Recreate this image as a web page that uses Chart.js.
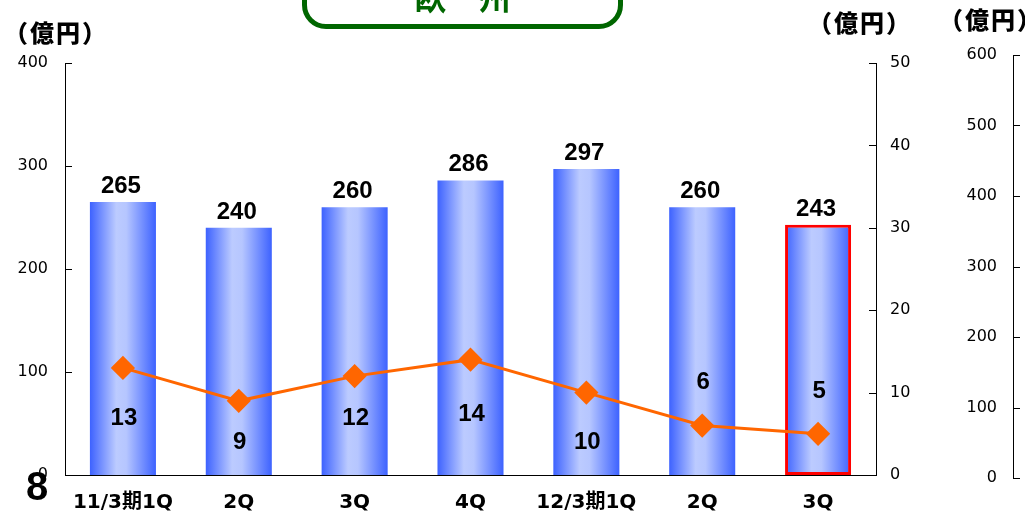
<!DOCTYPE html>
<html>
<head>
<meta charset="utf-8">
<script src="https://cdn.jsdelivr.net/npm/chart.js@4"></script>
<style>
  html, body { margin: 0; padding: 0; background: #fff; }
  body { width: 1025px; height: 516px; position: relative; overflow: hidden; }
  #main { position: absolute; left: 0; top: 0; }
  #side { position: absolute; left: 960px; top: 0; }
  .unit { position: absolute; font-family: "Noto Sans CJK JP", sans-serif; font-weight: 900;
          font-size: 24px; line-height: 1; letter-spacing: 2px; color: #000; white-space: nowrap; }
  .region { position: absolute; left: 302px; top: -40px; width: 311px; height: 59px;
            border: 5px solid #006600; border-radius: 24px; background: #fff; }
  .region-title { position: absolute; left: 302px; width: 321px; top: -20px; text-align: center;
                  font-family: "Noto Sans CJK JP", sans-serif; font-weight: bold; font-size: 32px;
                  line-height: 1; color: #006600; }
  .page { position: absolute; left: 26px; top: 466px; font-family: "Liberation Sans", sans-serif;
          font-weight: bold; font-size: 40px; line-height: 1; color: #000; }
</style>
</head>
<body>
<canvas id="main" width="1025" height="516"></canvas>
<canvas id="side" width="65" height="516"></canvas>
<div class="region"></div>
<div class="region-title">欧　州</div>
<div class="unit" style="left:4px;top:20px;">（億円）</div>
<div class="unit" style="left:808px;top:10px;">（億円）</div>
<div class="unit" style="left:939px;top:7px;">（億円）</div>
<div class="page">8</div>

<script>
// ── DATA ─────────────────────────────────────────
const categories   = ['11/3期1Q', '2Q', '3Q', '4Q', '12/3期1Q', '2Q', '3Q'];
const salesValues  = [265, 240, 260, 286, 297, 260, 243];   // 左軸（億円）
const profitValues = [13, 9, 12, 14, 10, 6, 5];              // 右軸（億円）
const leftMax = 400,  leftStep = 100;
const rightMax = 50,  rightStep = 10;
const sideMax = 600,  sideStep = 100;

// ── STYLE ────────────────────────────────────────
const BAR_PCT = 0.57;
const ORANGE = '#ff6600';
const profitLabelDy = [48, 39, 40, 52, 47, -46, -45];
const tickFont = { family: 'DejaVu Sans', size: 16 };

Chart.defaults.animation = false;

// short tick marks drawn inside the plot area
const innerTicks = {
  id: 'innerTicks',
  afterDraw(chart) {
    const c = chart.ctx;
    c.save();
    c.strokeStyle = '#000';
    c.lineWidth = 1;
    Object.values(chart.scales).forEach(s => {
      if (s.axis !== 'y' || !s.options.display) return;
      const left = s.position === 'left';
      const x = left ? s.right : s.left;
      const dir = left ? 1 : -1;
      s.ticks.forEach((t, i) => {
        const y = Math.round(s.getPixelForTick(i)) + 0.5;
        c.beginPath(); c.moveTo(x, y); c.lineTo(x + dir * 7, y); c.stroke();
      });
    });
    c.restore();
  }
};

const valueLabels = {
  id: 'valueLabels',
  afterDatasetsDraw(chart) {
    const c = chart.ctx;
    c.save();
    c.font = 'bold 24px "Liberation Sans", sans-serif';
    c.fillStyle = '#000';
    c.textAlign = 'center';
    c.textBaseline = 'alphabetic';
    chart.getDatasetMeta(1).data.forEach((b, i) => {
      c.fillText(String(salesValues[i]), b.x - 2, b.y - 9);
    });
    chart.getDatasetMeta(0).data.forEach((p, i) => {
      c.fillText(String(profitValues[i]), p.x + 1, p.y + profitLabelDy[i] + 9);
    });
    c.restore();
  }
};

function barGradient(ctx) {
  const chart = ctx.chart;
  const xs = chart.scales.x;
  if (!chart.chartArea || !xs) return '#8aa0ff';
  const cx = xs.getPixelForValue(ctx.dataIndex);
  const w = xs.width / categories.length * BAR_PCT;
  const g = chart.ctx.createLinearGradient(cx - w / 2, 0, cx + w / 2, 0);
  g.addColorStop(0, '#3d62ff');
  g.addColorStop(0.4, '#bccbff');
  g.addColorStop(0.55, '#b6c6ff');
  g.addColorStop(1, '#3d62ff');
  return g;
}

// ── MAIN CHART ───────────────────────────────────
new Chart(document.getElementById('main'), {
  data: {
    labels: categories,
    datasets: [
      {
        type: 'line',
        data: profitValues,
        yAxisID: 'y1',
        order: 0,
        borderColor: ORANGE,
        borderWidth: 3,
        pointStyle: 'rectRot',
        pointRadius: 10,
        pointBackgroundColor: ORANGE,
        pointBorderColor: ORANGE,
        tension: 0
      },
      {
        type: 'bar',
        data: salesValues,
        yAxisID: 'y',
        order: 1,
        backgroundColor: barGradient,
        borderColor: salesValues.map((v, i) => i === salesValues.length - 1 ? '#ff0000' : 'rgba(0,0,0,0)'),
        borderWidth: salesValues.map((v, i) => i === salesValues.length - 1 ? 3 : 0),
        borderSkipped: false,
        categoryPercentage: 1,
        barPercentage: BAR_PCT
      }
    ]
  },
  options: {
    responsive: false,
    layout: { padding: { left: 0, right: 109, top: 63, bottom: 0 } },
    plugins: { legend: { display: false }, tooltip: { enabled: false } },
    scales: {
      x: {
        grid: { display: false, drawTicks: false },
        border: { display: true, color: '#000', width: 1 },
        ticks: { color: '#000', padding: 16, maxRotation: 0, autoSkip: false,
                 font: { family: '"DejaVu Sans", "Noto Sans CJK JP"', size: 20, weight: 'bold' } },
        afterFit: s => { s.height = 41; }
      },
      y: {
        position: 'left',
        min: 0, max: leftMax,
        grid: { display: false, drawTicks: false },
        border: { display: true, color: '#000', width: 1 },
        ticks: { stepSize: leftStep, color: '#000', padding: 17, font: tickFont },
        afterFit: s => { s.width = 65; }
      },
      y1: {
        position: 'right',
        min: 0, max: rightMax,
        grid: { display: false, drawTicks: false },
        border: { display: true, color: '#000', width: 1 },
        ticks: { stepSize: rightStep, color: '#000', padding: 14, font: tickFont },
        afterFit: s => { s.width = 40; }
      }
    }
  },
  plugins: [innerTicks, valueLabels]
});

// ── NEXT PANEL AXIS (cut off at the right edge) ──
new Chart(document.getElementById('side'), {
  type: 'bar',
  data: { labels: [''], datasets: [{ data: [] }] },
  options: {
    responsive: false,
    layout: { padding: { left: 0, right: 0, top: 55, bottom: 38 } },
    plugins: { legend: { display: false }, tooltip: { enabled: false } },
    scales: {
      x: { display: false },
      y: {
        position: 'left',
        min: 0, max: sideMax,
        grid: { display: false, drawTicks: false },
        border: { display: true, color: '#000', width: 1 },
        ticks: { stepSize: sideStep, color: '#000', padding: 16, font: tickFont },
        afterFit: s => { s.width = 53; }
      }
    }
  },
  plugins: [innerTicks]
});
</script>
</body>
</html>
